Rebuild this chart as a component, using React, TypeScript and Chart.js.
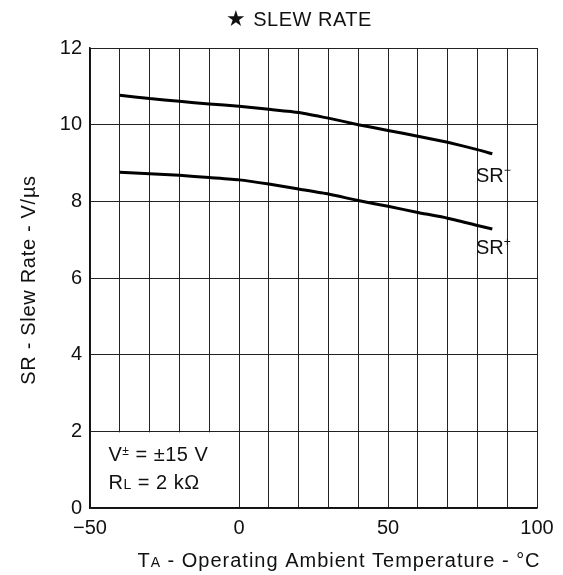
import React, { useEffect, useRef } from "react";
import { Chart, registerables } from "chart.js";
Chart.register(...registerables);

// ---- data ----
const temperatures = [-40, -30, -20, -10, 0, 10, 20, 30, 40, 50, 60, 70, 80, 85];
const srMinus = [10.77, 10.68, 10.61, 10.54, 10.48, 10.4, 10.32, 10.17, 10.0, 9.85, 9.7, 9.54, 9.35, 9.24];
const srPlus = [8.76, 8.72, 8.68, 8.62, 8.56, 8.45, 8.32, 8.19, 8.02, 7.87, 7.71, 7.56, 7.37, 7.28];
const xLabelValues = [-50, 0, 50, 100];
const titleText = "SLEW RATE";
const yTitleText = "SR - Slew Rate - V/\u00b5s";

const FONT = '"Liberation Sans", Arial, Helvetica, sans-serif';
const INK = "#111";

type Seg = { t: string; size: number; dy?: number };

function drawRich(
  ctx: CanvasRenderingContext2D,
  segs: Seg[],
  x: number,
  y: number,
  align: "left" | "center" = "left",
  spacing = 0
) {
  (ctx as any).letterSpacing = `${spacing}px`;
  let total = 0;
  for (const s of segs) {
    ctx.font = `${s.size}px ${FONT}`;
    total += ctx.measureText(s.t).width;
  }
  let cx = align === "center" ? x - total / 2 : x;
  ctx.textAlign = "left";
  ctx.textBaseline = "alphabetic";
  for (const s of segs) {
    ctx.font = `${s.size}px ${FONT}`;
    ctx.fillText(s.t, cx, y + (s.dy || 0));
    cx += ctx.measureText(s.t).width;
  }
  (ctx as any).letterSpacing = "0px";
}

const annotationPlugin = {
  id: "annotations",
  beforeDatasetsDraw(chart: any) {
    const { ctx, scales } = chart;
    const xs = scales.x, ys = scales.y;
    const x0 = xs.getPixelForValue(-50);
    const x1 = xs.getPixelForValue(0);
    const y0 = ys.getPixelForValue(2);
    const y1 = ys.getPixelForValue(0);
    ctx.save();
    ctx.fillStyle = "#fff";
    ctx.fillRect(x0 + 1.5, y0 + 1, x1 - x0 - 2.5, y1 - y0 - 2);
    ctx.restore();
  },
  afterDraw(chart: any) {
    const { ctx, scales, chartArea } = chart;
    const xs = scales.x, ys = scales.y;
    ctx.save();
    ctx.fillStyle = INK;
    // title
    drawRich(ctx, [{ t: "\u2605 ", size: 22 }, { t: titleText, size: 20 }], 299, 26, "center", 0.5);
    // x title
    drawRich(
      ctx,
      [
        { t: "T", size: 20 },
        { t: "A", size: 14 },
        { t: " - Operating Ambient Temperature - \u00b0C", size: 20 },
      ],
      339,
      567,
      "center",
      1
    );
    // y title
    ctx.save();
    ctx.translate(35, 280);
    ctx.rotate(-Math.PI / 2);
    drawRich(ctx, [{ t: yTitleText, size: 20 }], 0, 0, "center", 0.7);
    ctx.restore();
    // curve labels
    const lx = xs.getPixelForValue(79.5);
    drawRich(ctx, [{ t: "SR", size: 20 }, { t: "\u2212", size: 12, dy: -8 }], lx, ys.getPixelForValue(8.5));
    drawRich(ctx, [{ t: "SR", size: 20 }, { t: "+", size: 12, dy: -8 }], lx, ys.getPixelForValue(6.63));
    // conditions box text
    const tx = xs.getPixelForValue(-43.8);
    drawRich(
      ctx,
      [
        { t: "V", size: 20 },
        { t: "\u00b1", size: 12, dy: -6 },
        { t: " = \u00b115 V", size: 20 },
      ],
      tx,
      ys.getPixelForValue(1.22),
      "left",
      0.5
    );
    drawRich(
      ctx,
      [
        { t: "R", size: 20 },
        { t: "L", size: 14 },
        { t: " = 2 k\u03a9", size: 20 },
      ],
      tx,
      ys.getPixelForValue(0.5),
      "left",
      0.5
    );
    ctx.restore();
  },
};

export default function App() {
  const ref = useRef<HTMLCanvasElement | null>(null);
  useEffect(() => {
    if (!ref.current) return;
    const chart = new Chart(ref.current, {
      type: "line",
      data: {
        datasets: [
          {
            label: "SR-",
            data: temperatures.map((t, i) => ({ x: t, y: srMinus[i] })),
            borderColor: "#000",
            borderWidth: 3,
            pointRadius: 0,
            tension: 0.15,
            fill: false,
          },
          {
            label: "SR+",
            data: temperatures.map((t, i) => ({ x: t, y: srPlus[i] })),
            borderColor: "#000",
            borderWidth: 3,
            pointRadius: 0,
            tension: 0.15,
            fill: false,
          },
        ],
      },
      options: {
        responsive: false,
        animation: false,
        layout: { padding: { left: 0, top: 48, right: 26, bottom: 0 } },
        plugins: { legend: { display: false }, tooltip: { enabled: false }, title: { display: false } },
        scales: {
          x: {
            type: "linear",
            min: -50,
            max: 100,
            afterFit: (s: any) => {
              s.height = 67;
            },
            grid: { color: "#222", lineWidth: 1, drawTicks: false },
            border: { display: true, color: INK, width: 1.5 },
            ticks: {
              stepSize: 10,
              autoSkip: false,
              maxRotation: 0,
              padding: 8,
              color: INK,
              font: { family: FONT, size: 20 },
              callback: (v: any) => (xLabelValues.includes(Number(v)) ? String(v).replace("-", "\u2212") : ""),
            },
          },
          y: {
            min: 0,
            max: 12,
            afterFit: (s: any) => {
              s.width = 90;
            },
            grid: { color: "#222", lineWidth: 1, drawTicks: false },
            border: { display: true, color: INK, width: 1.5 },
            ticks: {
              stepSize: 2,
              padding: 8,
              color: INK,
              font: { family: FONT, size: 20 },
            },
          },
        },
      },
      plugins: [annotationPlugin],
    });
    return () => chart.destroy();
  }, []);
  return (
    <div style={{ position: "absolute", left: 0, top: 0, width: 563, height: 575, background: "#fff" }}>
      <canvas ref={ref} width={563} height={575} style={{ display: "block" }} />
    </div>
  );
}
